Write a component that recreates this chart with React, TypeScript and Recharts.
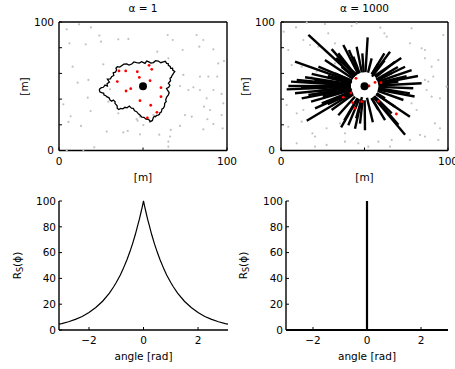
import React from 'react';
import { ComposedChart, Scatter, Line, XAxis, YAxis } from 'recharts';

const FONT = '"DejaVu Sans", "Liberation Sans", sans-serif';
const FS = 10.5;

// ---------- top panels (maps, metres) ----------
const mapTicksX = [0, 50, 100];
const mapTicksY = [0, 20, 40, 60, 80, 100];
const mapLabelled = [0, 100];

const grayA: [number, number][] = [
  [4.6, 94.3], [11.9, 98.2], [19.0, 95.8], [6.2, 83.4], [15.9, 82.6], [24.0, 89.4], [25.0, 84.7],
  [35.3, 86.5], [41.3, 86.8], [8.1, 65.2], [11.1, 52.8], [17.1, 41.1], [2.6, 35.9], [6.9, 26.6],
  [5.6, 22.2], [13.1, 19.1], [18.8, 30.7], [26.4, 67.1], [28.4, 14.7], [35.3, 28.9], [38.3, 14.1],
  [40.9, 15.2], [46.2, 24.5], [46.8, 23.2], [50.2, 19.8], [48.2, 12.6], [56.2, 27.6], [59.7, 12.3],
  [64.7, 89.9], [67.7, 86.0], [58.5, 76.9], [65.1, 71.7], [73.6, 78.2], [74.0, 58.8], [72.0, 50.2],
  [77.0, 47.1], [81.9, 89.9], [83.5, 80.8], [85.9, 86.0], [91.9, 78.7], [94.8, 67.8], [98.2, 69.6],
  [83.9, 57.5], [88.9, 57.5], [94.2, 57.5], [80.0, 49.2], [83.9, 47.1], [91.9, 47.1], [96.8, 44.0],
  [87.9, 40.6], [97.8, 36.7], [86.3, 34.1], [89.9, 31.5], [96.8, 27.6], [88.3, 24.3], [91.9, 20.6],
  [97.4, 17.2], [85.9, 16.5], [72.0, 19.1], [66.5, 16.0], [66.1, 10.8], [65.1, 6.9], [65.1, 3.0],
  [21.0, 2.5], [14.5, 0.4], [4.6, 0.2], [30.4, 47.6], [29.4, 38.0], [17.5, 54.9], [48.2, 26.3],
  [75.0, 27.6], [79.0, 26.3],
];

const redA: [number, number][] = [
  [35.7, 61.9], [39.7, 61.9], [46.6, 61.3], [53.6, 66.3], [55.2, 63.2], [47.8, 56.9], [54.2, 54.3],
  [34.7, 53.6], [42.7, 48.1], [39.9, 46.3], [60.7, 48.9], [60.7, 41.9], [48.2, 38.8], [54.6, 35.2],
  [58.3, 29.7], [52.6, 25.3],
];

const contourA: [number, number][] = [
  [24.0, 47.6], [25.2, 48.9], [26.4, 49.2], [27.4, 50.9], [28.8, 50.2], [28.6, 52.0], [30.0, 53.3],
  [29.5, 54.2], [28.8, 55.6], [30.6, 55.8], [31.3, 57.5], [32.6, 58.4], [32.3, 60.6], [33.6, 61.0],
  [34.3, 62.6], [33.9, 64.0], [34.7, 65.2], [36.1, 64.9], [37.3, 66.0], [38.6, 67.2], [40.3, 67.3],
  [41.7, 66.5], [43.3, 67.3], [44.6, 68.9], [46.2, 68.4], [47.8, 68.0], [49.2, 69.1], [50.3, 68.4],
  [51.2, 67.8], [52.2, 69.6], [53.2, 69.1], [54.7, 68.0], [56.2, 68.4], [57.5, 69.9], [59.1, 69.6],
  [60.6, 68.3], [62.1, 68.9], [63.3, 69.4], [64.1, 67.8], [65.0, 67.6], [65.1, 66.3], [66.2, 65.4],
  [66.5, 63.9], [67.6, 64.0], [67.7, 62.6], [68.9, 61.4], [68.1, 60.1], [67.8, 59.2], [67.1, 58.0],
  [66.9, 57.0], [66.1, 56.2], [66.4, 54.3], [65.1, 52.3], [66.0, 50.8], [65.3, 49.2], [64.0, 48.2],
  [64.5, 47.1], [65.6, 45.1], [65.1, 43.2], [64.1, 41.6], [63.5, 39.3], [63.8, 38.0], [62.9, 36.7],
  [62.8, 34.6], [62.1, 32.8], [61.3, 32.3], [61.1, 31.0], [60.9, 29.9], [60.1, 29.4], [59.8, 28.2],
  [59.1, 27.6], [58.1, 27.4], [57.5, 26.3], [56.9, 26.6], [56.2, 25.8], [55.6, 23.4], [54.2, 22.4],
  [53.9, 23.6], [52.8, 24.3], [51.8, 24.4], [50.6, 25.8], [49.3, 26.0], [48.2, 27.6], [47.4, 28.3],
  [46.2, 30.2], [45.0, 30.9], [44.2, 32.8], [43.1, 33.0], [41.9, 34.6], [40.5, 33.2], [39.3, 33.6],
  [38.0, 32.4], [36.7, 32.8], [35.6, 31.9], [34.7, 32.8], [34.6, 34.8], [33.3, 36.7], [33.4, 38.0],
  [32.3, 39.3], [31.4, 38.4], [30.4, 39.3], [29.8, 41.0], [28.4, 41.9], [27.9, 42.6], [26.8, 43.2],
  [26.6, 44.5], [25.4, 45.0], [24.4, 45.5], [24.0, 47.1], [24.0, 47.6],
];

const sourceA: [number, number][] = [[50, 50]];

const grayB: [number, number][] = [
  [9.0, 95.8], [15.4, 99.5], [26.3, 98.4], [28.3, 91.2], [42.3, 96.9], [45.3, 99.0], [59.5, 95.6],
  [61.9, 91.2], [63.3, 88.6], [78.2, 95.1], [84.2, 79.5], [86.2, 78.2], [97.2, 89.9], [86.2, 54.9],
  [88.2, 53.6], [91.2, 57.5], [87.2, 47.1], [90.2, 41.9], [95.2, 40.6], [99.2, 49.7], [92.2, 21.1],
  [95.2, 17.3], [83.2, 12.1], [86.2, 10.8], [94.2, 8.2], [77.2, 8.2], [66.3, 8.2], [65.3, 3.0],
  [58.3, 6.9], [46.3, 5.6], [38.3, 6.9], [27.3, 4.3], [20.4, 3.0], [9.4, 5.6], [4.4, 18.5],
  [12.4, 22.4], [18.8, 13.4], [27.3, 17.3], [9.4, 28.9], [13.4, 31.5], [20.4, 10.8], [3.4, 35.4],
  [4.4, 78.2], [6.4, 66.5], [12.4, 65.2], [18.4, 57.5], [21.4, 61.4], [28.3, 56.2], [32.3, 67.8],
  [35.3, 21.1], [38.3, 13.4], [52.3, 3.0], [77.2, 83.4], [86.2, 71.7], [94.2, 70.4], [13.4, 86.0],
  [17.4, 82.1], [22.4, 80.8], [32.3, 83.4], [1.6, 92.5], [90.2, 65.2], [78.2, 36.7], [81.2, 31.5],
];

const redB: [number, number][] = [
  [44.9, 56.2], [52.7, 50.2], [56.3, 53.0], [59.9, 52.8], [41.9, 44.7], [37.3, 41.4], [42.9, 37.2],
  [48.3, 38.0], [58.3, 38.3], [44.3, 32.8], [69.1, 28.4],
];

// each ray: inner x, inner y, outer x, outer y
const raysB: [number, number, number, number][] = [
  [43.9, 57.2, 16.4, 89.9], [42.1, 53.6, 8.4, 69.1], [41.6, 50.7, 6.0, 53.6], [41.6, 49.6, 3.4, 47.6],
  [41.8, 50.0, 4.4, 50.2], [41.5, 51.0, 9.4, 54.9], [41.8, 51.6, 14.4, 57.0], [41.8, 52.5, 18.4, 59.6],
  [42.3, 54.3, 22.4, 65.2], [43.1, 55.9, 26.3, 70.4], [44.5, 58.1, 30.3, 78.9], [44.8, 58.4, 34.3, 75.6],
  [46.2, 59.6, 37.3, 82.1], [46.7, 60.1, 40.7, 78.2], [47.1, 60.1, 43.3, 73.0], [48.4, 60.8, 45.3, 80.8],
  [50.6, 61.0, 51.9, 88.0], [49.5, 60.8, 48.7, 75.6], [52.1, 60.6, 54.3, 71.7], [54.3, 59.3, 58.3, 67.8],
  [54.3, 59.2, 61.9, 75.6], [55.0, 58.9, 65.3, 76.9], [56.6, 56.9, 68.3, 69.1], [57.5, 54.7, 74.3, 65.2],
  [57.9, 53.5, 78.2, 62.6], [58.1, 52.5, 75.2, 57.9], [58.4, 50.6, 84.2, 52.3], [58.5, 49.5, 79.2, 48.4],
  [58.2, 48.4, 77.2, 44.5], [57.9, 46.4, 73.3, 39.3], [57.1, 43.8, 77.2, 26.3], [55.3, 41.7, 74.3, 12.3],
  [55.5, 41.9, 70.3, 20.1], [55.9, 42.4, 66.3, 28.9], [54.3, 40.8, 62.3, 23.7], [54.2, 40.8, 58.3, 31.5],
  [50.1, 39.0, 50.3, 15.7], [48.9, 39.2, 47.3, 20.9], [48.2, 39.4, 44.3, 17.0], [46.8, 40.0, 40.3, 19.6],
  [45.8, 40.7, 37.9, 23.5], [44.3, 41.9, 34.3, 27.4], [43.3, 43.7, 30.3, 31.5], [42.7, 44.4, 15.4, 23.2],
  [42.3, 45.5, 20.4, 32.8], [42.3, 46.0, 24.4, 36.7], [41.7, 47.9, 12.4, 40.6], [41.7, 48.9, 8.4, 44.5],
  [41.6, 48.3, 16.4, 43.2], [41.7, 48.9, 22.4, 46.3], [41.7, 50.8, 26.3, 52.3], [42.4, 54.3, 32.3, 60.1],
  [43.6, 57.1, 36.3, 65.2], [57.7, 54.7, 66.3, 60.1], [58.3, 51.5, 70.3, 53.6], [57.3, 44.5, 62.3, 40.6],
  [57.0, 44.0, 68.3, 34.1], [41.7, 49.8, 12.0, 49.0], [41.8, 51.4, 20.0, 55.0], [42.5, 47.6, 25.0, 42.0],
  [42.5, 53.0, 28.0, 58.0], [42.0, 47.0, 18.0, 38.0], [57.0, 55.3, 70.0, 65.0], [54.5, 57.5, 62.0, 70.0],
  [51.5, 41.0, 55.0, 22.0], [48.5, 41.5, 45.0, 25.0], [58.0, 47.5, 80.0, 42.0], [58.3, 52.0, 82.0, 58.0],
  [56.0, 58.0, 72.0, 72.0], [45.5, 59.0, 33.0, 72.0], [43.0, 45.0, 28.0, 36.0], [46.0, 40.5, 36.0, 18.0],
];

const sourceB: [number, number][] = [[50, 50]];

// ---------- bottom panels (angular response) ----------
const angleTicks = [-2, 0, 2];
const rsTicks = [0, 20, 40, 60, 80, 100];
const angleMinorTicks = [
  -3.0, -2.8, -2.6, -2.4, -2.2, -2.0, -1.8, -1.6, -1.4, -1.2, -1.0, -0.8, -0.6, -0.4, -0.2, 0,
  0.2, 0.4, 0.6, 0.8, 1.0, 1.2, 1.4, 1.6, 1.8, 2.0, 2.2, 2.4, 2.6, 2.8, 3.0,
];
const rsMinorTicks = [0, 5, 10, 15, 20, 25, 30, 35, 40, 45, 50, 55, 60, 65, 70, 75, 80, 85, 90, 95, 100];

const phiA = [
  -3.1, -3, -2.75, -2.5, -2.25, -2, -1.75, -1.5, -1.25, -1.1, -1, -0.85, -0.75, -0.6, -0.5, -0.4, -0.3,
  -0.2, -0.15, -0.1, -0.05, 0, 0.05, 0.1, 0.15, 0.2, 0.3, 0.4, 0.5, 0.6, 0.75, 0.85, 1, 1.1, 1.25, 1.5,
  1.75, 2, 2.25, 2.5, 2.75, 3, 3.1,
];
const rsA = [
  4.5, 5.0, 6.4, 8.2, 10.5, 13.5, 17.4, 22.3, 28.6, 33.3, 36.8, 42.7, 47.2, 54.9, 60.6, 67.0, 74.0,
  82.0, 86.0, 90.5, 95.1, 100, 95.1, 90.5, 86.0, 82.0, 74.0, 67.0, 60.6, 54.9, 47.2, 42.7, 36.8, 33.3,
  28.6, 22.3, 17.4, 13.5, 10.5, 8.2, 6.4, 5.0, 4.5,
];

const phiB = [-3, 0, 0, 0, 3];
const rsB = [0, 0, 100, 0, 0];

// ---------- helpers ----------
const toPts = (a: [number, number][]) => a.map(([x, y]) => ({ x, y }));

const grayDot = (p: any) => <circle cx={p.cx} cy={p.cy} r={1.1} fill="#c2c2c2" />;
const redDot = (p: any) => <circle cx={p.cx} cy={p.cy} r={1.4} fill="#ff0000" />;
const bigDot = (p: any) => <circle cx={p.cx} cy={p.cy} r={4} fill="#000" />;
const noDot = () => <g />;

const textStyle = { fontFamily: FONT, fontSize: FS, fill: '#000' };
const axisLine = { stroke: '#000', strokeWidth: 1.4 };
const tickLine = { stroke: '#000', strokeWidth: 1 };
const minorTickLine = { stroke: '#000', strokeWidth: 0.8 };

const rotLabel = (text: React.ReactNode, x: number, y: number) => () => (
  <text
    x={x}
    y={y}
    transform={`rotate(-90 ${x} ${y})`}
    textAnchor="middle"
    dominantBaseline="central"
    style={textStyle}
  >
    {text}
  </text>
);

const flatLabel = (text: string, x: number, y: number) => () => (
  <text x={x} y={y} textAnchor="middle" style={textStyle}>
    {text}
  </text>
);

const RsText = (
  <>
    <tspan>R</tspan>
    <tspan dy={3} fontSize={8}>S</tspan>
    <tspan dy={-3}>(ϕ)</tspan>
  </>
);

type MapProps = {
  left: number;
  width: number;
  yAxisWidth: number;
  marginRight: number;
  title: string;
  yLabelX: number;
  leftTickMargin: number;
  children: React.ReactNode;
};

function MapPanel({ left, width, yAxisWidth, marginRight, title, yLabelX, leftTickMargin, children }: MapProps) {
  const plotCx = yAxisWidth + (width - marginRight - yAxisWidth) / 2;
  return (
    <div style={{ position: 'absolute', left, top: 0, width, height: 185 }}>
      <ComposedChart width={width} height={185} margin={{ top: 21, right: marginRight - 1, bottom: 0, left: 0 }}>
        <XAxis
          type="number"
          dataKey="x"
          domain={[0, 100]}
          ticks={mapTicksX}
          interval={0}
          height={34.5}
          tickSize={-3}
          tickMargin={10.5}
          tick={textStyle}
          tickLine={tickLine}
          axisLine={axisLine}
          tickFormatter={(v: number) => (mapLabelled.includes(v) ? String(v) : '')}
          label={flatLabel('[m]', plotCx, 181)}
        />
        <XAxis
          xAxisId="top"
          orientation="top"
          type="number"
          dataKey="x"
          domain={[0, 100]}
          ticks={mapTicksX}
          interval={0}
          height={1}
          tickSize={-3}
          tick={false}
          tickLine={tickLine}
          axisLine={axisLine}
          label={flatLabel(title, plotCx, 11.7)}
        />
        <YAxis
          type="number"
          dataKey="y"
          domain={[0, 100]}
          ticks={mapTicksY}
          interval={0}
          width={yAxisWidth}
          tickSize={-3}
          tickMargin={leftTickMargin}
          tick={textStyle}
          tickLine={tickLine}
          axisLine={axisLine}
          tickFormatter={(v: number) => (mapLabelled.includes(v) ? String(v) : '')}
          label={rotLabel('[m]', yLabelX, 86.5)}
        />
        <YAxis
          yAxisId="right"
          orientation="right"
          type="number"
          dataKey="y"
          domain={[0, 100]}
          ticks={mapTicksY}
          interval={0}
          width={1}
          tickSize={-3}
          tick={false}
          tickLine={tickLine}
          axisLine={axisLine}
        />
        {children}
        <Scatter
          xAxisId="top"
          yAxisId="right"
          data={[{ x: 50, y: 50 }]}
          shape={noDot}
          isAnimationActive={false}
        />
      </ComposedChart>
    </div>
  );
}

type RespProps = {
  left: number;
  width: number;
  yAxisWidth: number;
  marginRight: number;
  domain: [number, number];
  phi: number[];
  rs: number[];
  strokeWidth: number;
  yLabelX: number;
  leftTickMargin: number;
};

function ResponsePanel({ left, width, yAxisWidth, marginRight, domain, phi, rs, strokeWidth, yLabelX, leftTickMargin }: RespProps) {
  const plotCx = yAxisWidth + (width - marginRight - yAxisWidth) / 2;
  const rows = phi.map((p, i) => ({ phi: p, r: rs[i] }));
  return (
    <div style={{ position: 'absolute', left, top: 185, width, height: 184 }}>
      <ComposedChart width={width} height={184} data={rows} margin={{ top: 16, right: marginRight, bottom: 0, left: 0 }}>
        <XAxis
          xAxisId="minor"
          type="number"
          dataKey="phi"
          domain={domain}
          allowDataOverflow
          ticks={angleMinorTicks}
          interval={0}
          height={1}
          tickSize={-1.5}
          tick={false}
          tickLine={minorTickLine}
          axisLine={false}
        />
        <YAxis
          yAxisId="minor"
          type="number"
          domain={[0, 100]}
          ticks={rsMinorTicks}
          interval={0}
          width={1}
          tickSize={-1.5}
          tick={false}
          tickLine={minorTickLine}
          axisLine={false}
        />
        <XAxis
          type="number"
          dataKey="phi"
          domain={domain}
          allowDataOverflow
          ticks={angleTicks}
          interval={0}
          height={38}
          tickSize={-3}
          tickMargin={10}
          tick={textStyle}
          tickLine={tickLine}
          axisLine={axisLine}
          tickFormatter={(v: number) => (v < 0 ? '\u2212' + Math.abs(v) : String(v))}
          label={flatLabel('angle [rad]', plotCx, 174.5)}
        />
        <YAxis
          type="number"
          domain={[0, 100]}
          ticks={rsTicks}
          interval={0}
          width={yAxisWidth - 1}
          tickSize={-3}
          tickMargin={leftTickMargin - 1}
          tick={textStyle}
          tickLine={tickLine}
          axisLine={axisLine}
          label={rotLabel(RsText, yLabelX, 80.5)}
        />
        <Line
          xAxisId="minor"
          yAxisId="minor"
          type="linear"
          dataKey="r"
          stroke="none"
          dot={false}
          activeDot={false}
          isAnimationActive={false}
        />
        <Line
          type="linear"
          dataKey="r"
          stroke="#000"
          strokeWidth={strokeWidth}
          dot={false}
          activeDot={false}
          isAnimationActive={false}
        />
      </ComposedChart>
    </div>
  );
}

export default function App() {
  return (
    <div style={{ position: 'absolute', left: 0, top: 0, width: 455, height: 369, background: '#fff', overflow: 'hidden' }}>
      <MapPanel left={0} width={240} yAxisWidth={59} marginRight={13} title="α = 1" yLabelX={24} leftTickMargin={8}>
        <Scatter data={toPts(grayA)} shape={grayDot} isAnimationActive={false} />
        <Scatter data={toPts(contourA)} shape={noDot} line={{ stroke: '#000', strokeWidth: 1.3 }} isAnimationActive={false} />
        <Scatter data={toPts(redA)} shape={redDot} isAnimationActive={false} />
        <Scatter data={toPts(sourceA)} shape={bigDot} isAnimationActive={false} />
      </MapPanel>
      <MapPanel left={230} width={225} yAxisWidth={51} marginRight={7} title="α = 1000" yLabelX={15} leftTickMargin={9}>
        <Scatter data={toPts(grayB)} shape={grayDot} isAnimationActive={false} />
        {raysB.map(([x1, y1, x2, y2], i) => (
          <Scatter
            key={'ray' + i}
            data={[{ x: x1, y: y1 }, { x: x2, y: y2 }]}
            shape={noDot}
            line={{ stroke: '#000', strokeWidth: 2.4 }}
            isAnimationActive={false}
          />
        ))}
        <Scatter data={toPts(redB)} shape={redDot} isAnimationActive={false} />
        <Scatter data={toPts(sourceB)} shape={bigDot} isAnimationActive={false} />
      </MapPanel>
      <ResponsePanel left={0} width={240} yAxisWidth={59} marginRight={12} domain={[-3.1, 3.1]} phi={phiA} rs={rsA} strokeWidth={1.2} yLabelX={17} leftTickMargin={7} />
      <ResponsePanel left={230} width={225} yAxisWidth={56} marginRight={7} domain={[-3, 3]} phi={phiB} rs={rsB} strokeWidth={2.2} yLabelX={13} leftTickMargin={7} />
    </div>
  );
}
